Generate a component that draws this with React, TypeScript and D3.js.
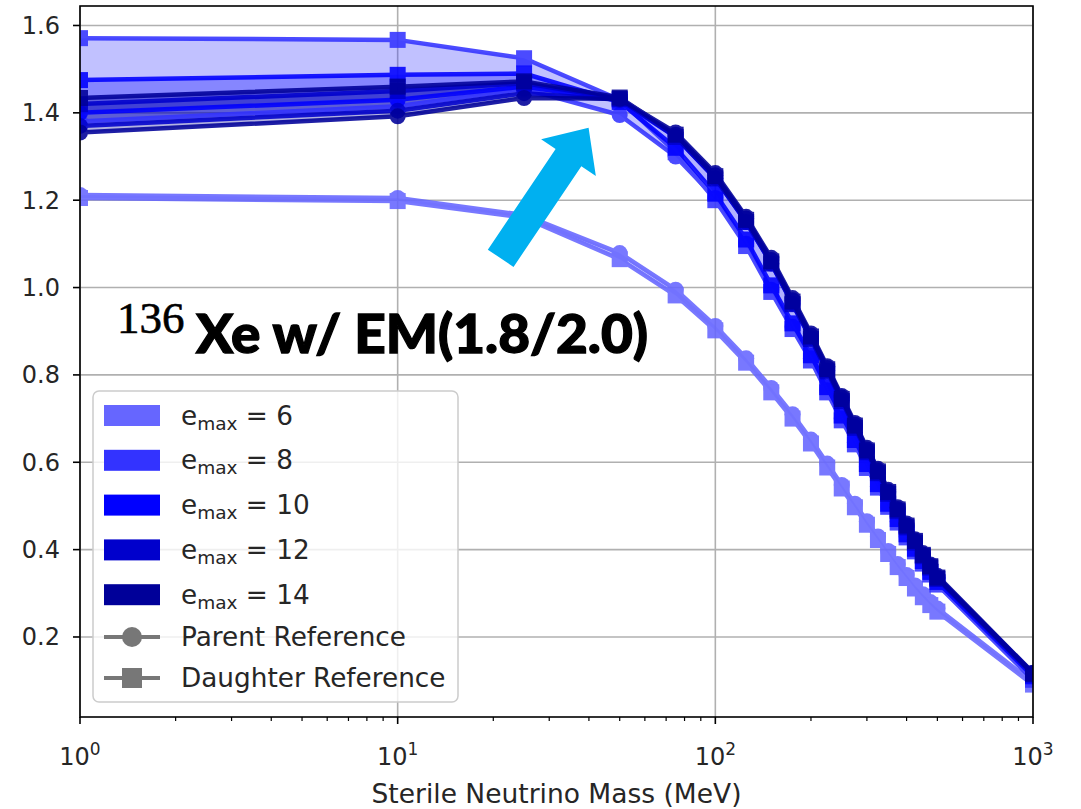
import React from 'react';
import * as d3 from 'd3';

// ---------- data ----------
const masses = [1, 10, 25, 50, 75, 100, 125, 150, 175, 200, 225, 250, 275, 300, 325, 350, 375, 400, 425, 450, 475, 500, 1000];

const emaxLabels = ['6', '8', '10', '12', '14'];
const emaxColors = ['#6666ff', '#3333ff', '#0000ff', '#0000cc', '#000099'];

const parentE6 = [1.212, 1.205, 1.166, 1.079, 0.995, 0.912, 0.838, 0.77, 0.71, 0.652, 0.597, 0.548, 0.505, 0.465, 0.43, 0.397, 0.367, 0.342, 0.318, 0.298, 0.28, 0.265, 0.096];
const daughterE6 = [1.205, 1.198, 1.16, 1.065, 0.982, 0.902, 0.828, 0.76, 0.7, 0.643, 0.588, 0.54, 0.497, 0.457, 0.422, 0.39, 0.36, 0.335, 0.311, 0.291, 0.273, 0.258, 0.091];

const parentE8 = [1.38, 1.415, 1.455, 1.395, 1.3, 1.205, 1.1, 0.995, 0.91, 0.838, 0.765, 0.7, 0.645, 0.59, 0.545, 0.5, 0.465, 0.43, 0.398, 0.37, 0.345, 0.322, 0.105];
const daughterE8 = [1.571, 1.567, 1.525, 1.43, 1.31, 1.2, 1.095, 0.99, 0.905, 0.833, 0.76, 0.696, 0.641, 0.587, 0.542, 0.498, 0.462, 0.428, 0.396, 0.368, 0.343, 0.32, 0.102];

const parentE10 = [1.4, 1.43, 1.46, 1.428, 1.345, 1.25, 1.15, 1.055, 0.963, 0.884, 0.81, 0.742, 0.681, 0.625, 0.577, 0.53, 0.49, 0.453, 0.418, 0.386, 0.36, 0.334, 0.115];
const daughterE10 = [1.475, 1.487, 1.49, 1.425, 1.32, 1.215, 1.11, 1.005, 0.918, 0.845, 0.772, 0.707, 0.651, 0.596, 0.55, 0.505, 0.47, 0.435, 0.402, 0.374, 0.349, 0.326, 0.11];

const parentE12 = [1.37, 1.405, 1.445, 1.43, 1.35, 1.257, 1.158, 1.063, 0.971, 0.89, 0.816, 0.748, 0.686, 0.629, 0.581, 0.533, 0.493, 0.456, 0.421, 0.389, 0.363, 0.337, 0.117];
const daughterE12 = [1.42, 1.45, 1.468, 1.432, 1.345, 1.25, 1.15, 1.055, 0.962, 0.882, 0.808, 0.74, 0.679, 0.623, 0.575, 0.528, 0.488, 0.451, 0.416, 0.385, 0.359, 0.333, 0.114];

const parentE14 = [1.355, 1.392, 1.434, 1.432, 1.355, 1.262, 1.162, 1.068, 0.976, 0.895, 0.82, 0.752, 0.69, 0.633, 0.585, 0.537, 0.497, 0.46, 0.424, 0.392, 0.366, 0.34, 0.118];
const daughterE14 = [1.434, 1.46, 1.472, 1.435, 1.35, 1.255, 1.155, 1.06, 0.968, 0.888, 0.813, 0.745, 0.684, 0.627, 0.579, 0.532, 0.492, 0.455, 0.42, 0.388, 0.362, 0.336, 0.116];

const parents = [parentE6, parentE8, parentE10, parentE12, parentE14];
const daughters = [daughterE6, daughterE8, daughterE10, daughterE12, daughterE14];

const yTicks = [0.2, 0.4, 0.6, 0.8, 1.0, 1.2, 1.4, 1.6];
const xTickExponents = [0, 1, 2, 3];
const xAxisLabel = 'Sterile Neutrino Mass (MeV)';
const refLabels = ['Parent Reference', 'Daughter Reference'];

// annotation arrow (data coordinates: tail -> tip)
const arrowTail = { m: 21.1, v: 1.067 };
const arrowTip = { m: 39.9, v: 1.366 };

// ---------- layout ----------
const W = 1081;
const H = 809;
const PL = 80, PR = 1033, PT = 6, PB = 717;
const FONT = '"DejaVu Sans", sans-serif';

export default function App() {
  const x = d3.scaleLog().domain([1, 1000]).range([PL, PR]);
  const y = d3.scaleLinear().domain([0.0168, 1.6446]).range([PB, PT]);

  const lineGen = (vals: number[]) =>
    d3.line<number>().x((_, i) => x(masses[i])).y((d) => y(d))(vals) || '';
  const areaGen = (a: number[], b: number[]) =>
    d3.area<number>().x((_, i) => x(masses[i])).y0((d) => y(d)).y1((_, i) => y(b[i]))(a) || '';

  const minorTicks: number[] = [];
  for (let e = 0; e < 3; e++) for (let k = 2; k <= 9; k++) minorTicks.push(k * Math.pow(10, e));

  // arrow polygon
  const tx = x(arrowTail.m), ty = y(arrowTail.v);
  const hx = x(arrowTip.m), hy = y(arrowTip.v);
  const dx = hx - tx, dy = hy - ty;
  const len = Math.hypot(dx, dy);
  const ux = dx / len, uy = dy / len;
  const nx = -uy, ny = ux;
  const shaftHalf = 15.5, headHalf = 33, headLen = 36;
  const bx = hx - ux * headLen, by = hy - uy * headLen;
  const arrowPts = [
    [tx + nx * shaftHalf, ty + ny * shaftHalf],
    [bx + nx * shaftHalf, by + ny * shaftHalf],
    [bx + nx * headHalf, by + ny * headHalf],
    [hx, hy],
    [bx - nx * headHalf, by - ny * headHalf],
    [bx - nx * shaftHalf, by - ny * shaftHalf],
    [tx - nx * shaftHalf, ty - ny * shaftHalf],
  ].map((p) => p.join(',')).join(' ');

  const legendX = 93, legendY = 391;
  const rowY = (i: number) => 415.5 + i * 44.8;

  return (
    <svg width={W} height={H} style={{ position: 'absolute', left: 0, top: 0, background: '#fff' }}>
      <defs>
        <clipPath id="plotclip">
          <rect x={PL} y={PT} width={PR - PL} height={PB - PT} />
        </clipPath>
      </defs>
      <rect x={0} y={0} width={W} height={H} fill="#fff" />

      {/* grid */}
      <g stroke="#b0b0b0" strokeWidth={1.6}>
        {yTicks.map((t) => (
          <line key={'gy' + t} x1={PL} x2={PR} y1={y(t)} y2={y(t)} />
        ))}
        {xTickExponents.map((e) => (
          <line key={'gx' + e} x1={x(Math.pow(10, e))} x2={x(Math.pow(10, e))} y1={PT} y2={PB} />
        ))}
      </g>

      {/* data */}
      <g clipPath="url(#plotclip)">
        {emaxLabels.map((lab, i) => (
          <path key={'fill' + lab} d={areaGen(parents[i], daughters[i])} fill={emaxColors[i]} fillOpacity={0.3} stroke="none" />
        ))}
        {emaxLabels.map((lab, i) => (
          <g key={'ser' + lab} opacity={0.88}>
            <path d={lineGen(parents[i])} fill="none" stroke={emaxColors[i]} strokeWidth={4.5} strokeLinejoin="round" />
            {parents[i].map((v, j) => (
              <circle key={'pc' + j} cx={x(masses[j])} cy={y(v)} r={8} fill={emaxColors[i]} />
            ))}
            <path d={lineGen(daughters[i])} fill="none" stroke={emaxColors[i]} strokeWidth={4.5} strokeLinejoin="round" />
            {daughters[i].map((v, j) => (
              <rect key={'dr' + j} x={x(masses[j]) - 8} y={y(v) - 8} width={16} height={16} fill={emaxColors[i]} />
            ))}
          </g>
        ))}
      </g>

      {/* spines */}
      <rect x={PL} y={PT} width={PR - PL} height={PB - PT} fill="none" stroke="#000" strokeWidth={1.6} />

      {/* y ticks */}
      {yTicks.map((t) => (
        <g key={'yt' + t}>
          <line x1={PL - 7} x2={PL} y1={y(t)} y2={y(t)} stroke="#000" strokeWidth={1.6} />
          <text x={60} y={y(t) + 8.5} textAnchor="end" fontFamily={FONT} fontSize={24} fill="#262626">
            {t.toFixed(1)}
          </text>
        </g>
      ))}

      {/* x ticks */}
      {minorTicks.map((m) => (
        <line key={'mx' + m} x1={x(m)} x2={x(m)} y1={PB} y2={PB + 4} stroke="#000" strokeWidth={1.2} />
      ))}
      {xTickExponents.map((e) => {
        const px = x(Math.pow(10, e));
        return (
          <g key={'xt' + e}>
            <line x1={px} x2={px} y1={PB} y2={PB + 7} stroke="#000" strokeWidth={1.6} />
            <text x={px} y={765} textAnchor="middle" fontFamily={FONT} fontSize={24} fill="#262626">
              <tspan>10</tspan>
              <tspan dy={-10} fontSize={17}>{String(e)}</tspan>
            </text>
          </g>
        );
      })}

      <text x={(PL + PR) / 2} y={803} textAnchor="middle" fontFamily={FONT} fontSize={26.5} fill="#262626">
        {xAxisLabel}
      </text>

      {/* legend */}
      <rect x={legendX} y={legendY} width={365} height={311} rx={6} fill="#fff" fillOpacity={0.8} stroke="#cccccc" strokeWidth={1.5} />
      {emaxLabels.map((lab, i) => (
        <g key={'lg' + lab}>
          <rect x={104} y={rowY(i) - 10.5} width={56} height={21} fill={emaxColors[i]} />
          <text x={181} y={rowY(i) + 9} fontFamily={FONT} fontSize={26.3} fill="#262626">
            <tspan>e</tspan>
            <tspan dy={5} fontSize={18.5}>max</tspan>
            <tspan dy={-5}>{' = ' + lab}</tspan>
          </text>
        </g>
      ))}
      {refLabels.map((lab, i) => {
        const ly = 637 + i * 41;
        return (
          <g key={'rl' + i}>
            <line x1={104} x2={160} y1={ly} y2={ly} stroke="#777" strokeWidth={4} />
            {i === 0 ? (
              <circle cx={132} cy={ly} r={10} fill="#777" />
            ) : (
              <rect x={122} y={ly - 10} width={20} height={20} fill="#777" />
            )}
            <text x={181} y={ly + 9} fontFamily={FONT} fontSize={26.3} fill="#262626">
              {lab}
            </text>
          </g>
        );
      })}

      {/* annotation */}
      <polygon points={arrowPts} fill="#00b0f0" />
      <text x={117} y={333} fontFamily={'"Liberation Serif", serif'} fontSize={45} fill="#000" stroke="#000" strokeWidth={0.6}>
        136
      </text>
      <text x={196} y={353} fontFamily={'Lato, "Open Sans", sans-serif'} fontWeight={900} fontSize={53} fill="#000" stroke="#000" strokeWidth={1.3} textLength={452} lengthAdjust="spacingAndGlyphs">
        Xe w/ EM(1.8/2.0)
      </text>
    </svg>
  );
}
